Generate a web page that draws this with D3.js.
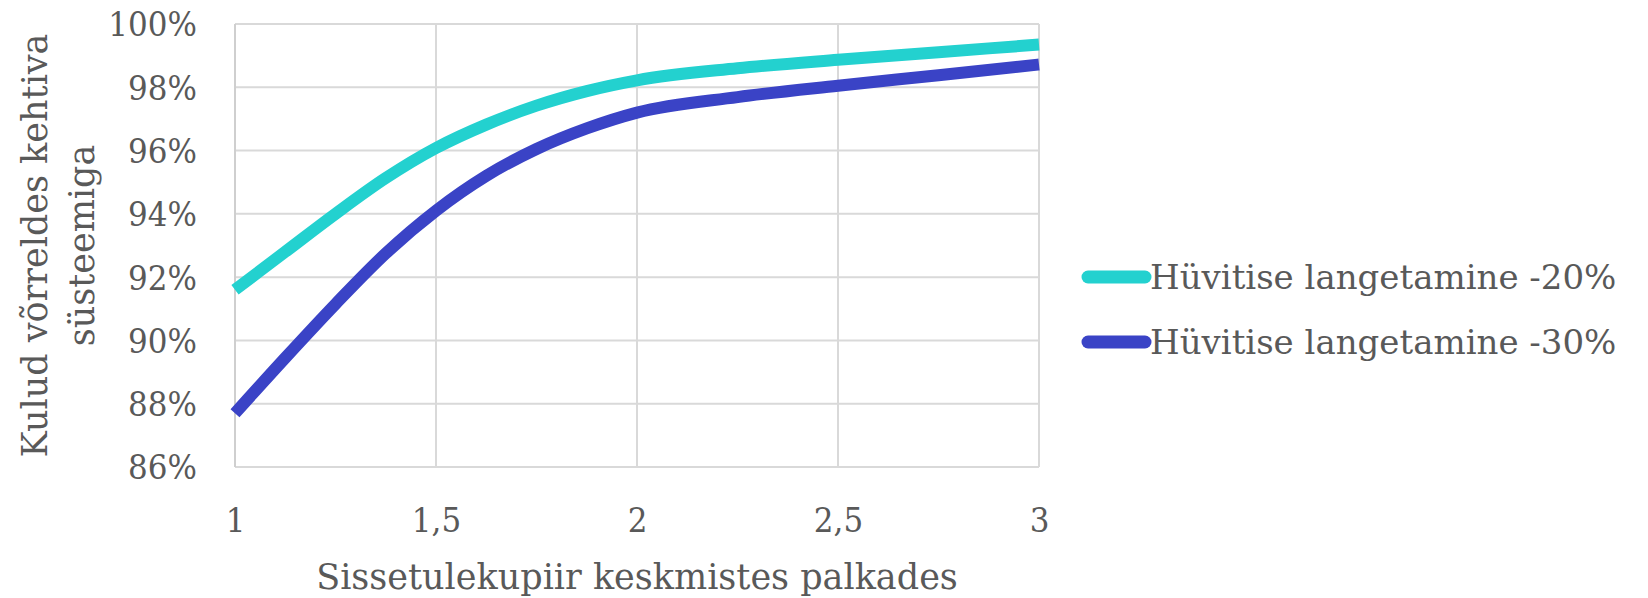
<!DOCTYPE html>
<html>
<head>
<meta charset="utf-8">
<script src="https://cdn.jsdelivr.net/npm/d3@7"></script>
<style>
  html, body { margin: 0; padding: 0; background: #fff; }
  svg text { font-family: "DejaVu Serif", serif; fill: #595959; }
</style>
</head>
<body>
<div id="chart"></div>
<script>
const width = 1648, height = 598;

// andmed (loetud graafikult)
const xValues = [1, 1.125, 1.25, 1.375, 1.5, 1.625, 1.75, 1.875, 2, 2.25, 2.5, 2.75, 3];
const cut20 = [91.6, 92.8, 94.0, 95.13, 96.08, 96.82, 97.42, 97.88, 98.22, 98.6, 98.87, 99.11, 99.35];
const cut30 = [87.7, 89.45, 91.15, 92.75, 94.1, 95.2, 96.05, 96.7, 97.2, 97.69, 98.05, 98.38, 98.72];
const seriesNames = ["Hüvitise langetamine -20%", "Hüvitise langetamine -30%"];
const seriesColors = ["#23d1cf", "#3a43c6"];
const xTicks = [1, 1.5, 2, 2.5, 3];
const yTicks = [86, 88, 90, 92, 94, 96, 98, 100];

const margin = {left: 235, right: 609, top: 24, bottom: 131};
const svg = d3.select("#chart").append("svg").attr("width", width).attr("height", height);

const x = d3.scaleLinear().domain([1, 3]).range([margin.left, width - margin.right]);
const y = d3.scaleLinear().domain([86, 100]).range([height - margin.bottom, margin.top]);

// ruudustik
svg.append("g").selectAll("line").data(yTicks).join("line")
    .attr("x1", x(1)).attr("x2", x(3))
    .attr("y1", d => y(d)).attr("y2", d => y(d))
    .attr("stroke", "#d9d9d9").attr("stroke-width", 2);
svg.append("g").selectAll("line").data(xTicks).join("line")
    .attr("x1", d => x(d)).attr("x2", d => x(d))
    .attr("y1", y(86)).attr("y2", y(100))
    .attr("stroke", d => d === 1 ? "#cfcfcf" : "#d9d9d9").attr("stroke-width", 2);

// teljed
const fmtX = d => String(d).replace(".", ",");
const yAxis = svg.append("g").attr("transform", `translate(${margin.left},0)`)
    .call(d3.axisLeft(y).tickValues(yTicks).tickFormat(d => d + "%").tickSize(0).tickPadding(38));
const xAxis = svg.append("g").attr("transform", `translate(0,${height - margin.bottom})`)
    .call(d3.axisBottom(x).tickValues(xTicks).tickFormat(fmtX).tickSize(0).tickPadding(42));
[yAxis, xAxis].forEach(a => {
    a.select(".domain").remove();
    a.selectAll("text").attr("font-family", "DejaVu Serif").attr("font-size", 33).attr("fill", "#595959");
    // kitsam kiri, et laius jääks samaks
    a.selectAll("text").each(function() {
        const w = this.getComputedTextLength();
        d3.select(this).attr("textLength", w * 31 / 33).attr("lengthAdjust", "spacingAndGlyphs");
    });
});
yAxis.selectAll("text").attr("dy", "0.36em");

// telgede pealkirjad
svg.append("text")
    .attr("x", (x(1) + x(3)) / 2).attr("y", 589)
    .attr("text-anchor", "middle").attr("font-size", 35)
    .text("Sissetulekupiir keskmistes palkades");

const yTitle = svg.append("text")
    .attr("transform", `translate(0,${(y(86) + y(100)) / 2}) rotate(-90)`)
    .attr("text-anchor", "middle").attr("font-size", 35);
yTitle.append("tspan").attr("x", 0).attr("y", 47).text("Kulud võrreldes kehtiva");
yTitle.append("tspan").attr("x", 0).attr("y", 94).text("süsteemiga");

// jooned
const line = d3.line()
    .x((d, i) => x(xValues[i]))
    .y(d => y(d))
    .curve(d3.curveMonotoneX);

[cut20, cut30].forEach((s, i) => {
    svg.append("path")
        .datum(s)
        .attr("fill", "none")
        .attr("stroke", seriesColors[i])
        .attr("stroke-width", 12)
        .attr("d", line);
});

// legend
const legend = svg.append("g");
seriesNames.forEach((name, i) => {
    const ly = 277 + i * 65;
    legend.append("line")
        .attr("x1", 1088).attr("x2", 1145)
        .attr("y1", ly).attr("y2", ly)
        .attr("stroke", seriesColors[i]).attr("stroke-width", 13)
        .attr("stroke-linecap", "round");
    legend.append("text")
        .attr("x", 1150).attr("y", ly).attr("dy", "0.36em")
        .attr("font-size", 34)
        .text(name);
});
</script>
</body>
</html>
